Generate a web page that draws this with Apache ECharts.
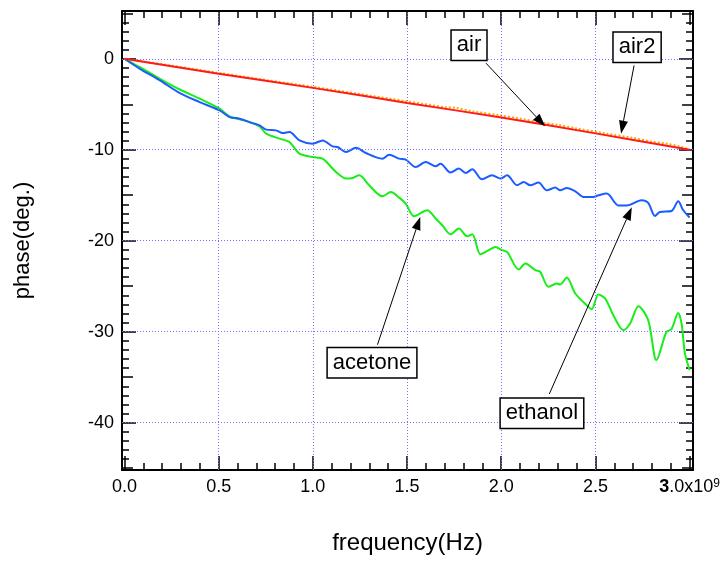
<!DOCTYPE html>
<html>
<head>
<meta charset="utf-8">
<script src="https://cdn.jsdelivr.net/npm/echarts@6/dist/echarts.min.js"></script>
<style>html,body{margin:0;padding:0;background:#fff}#c{width:723px;height:561px}</style>
</head>
<body>
<div id="c"></div>
<script>
// frequency values are in units of 1e9 Hz (axis shows x10^9)
const airFreq = [0, 0.5, 1.0, 1.5, 2.0, 2.5, 3.0];
const airPhase = [0, -1.65, -3.2, -4.85, -6.45, -8.2, -10.0];

const air2Freq = [0, 0.25, 0.5, 0.75, 1.0, 1.25, 1.5, 1.7, 1.76, 1.85, 2.0, 2.1, 2.2, 2.3, 2.4, 2.55, 2.7, 2.8, 2.87, 2.95, 3.0];
const air2Phase = [0, -0.76, -1.55, -2.33, -3.08, -3.88, -4.68, -5.32, -5.40, -5.78, -6.24, -6.58, -6.97, -7.26, -7.66, -8.2, -8.7, -9.12, -9.3, -9.66, -9.98];

const ethanolFreq = [0, 0.082, 0.188, 0.294, 0.399, 0.505, 0.558, 0.611, 0.680, 0.717, 0.752, 0.805, 0.840, 0.876, 0.929, 0.999, 1.052, 1.105, 1.131, 1.176, 1.229, 1.281, 1.369, 1.405, 1.458, 1.493, 1.546, 1.599, 1.652, 1.678, 1.731, 1.775, 1.811, 1.846, 1.898, 1.951, 1.996, 2.031, 2.084, 2.119, 2.154, 2.198, 2.242, 2.287, 2.313, 2.348, 2.393, 2.437, 2.489, 2.516, 2.560, 2.622, 2.666, 2.745, 2.780, 2.816, 2.842, 2.904, 2.939, 2.966, 3.0];
const ethanolPhase = [0, -1.10, -2.38, -3.77, -4.76, -5.68, -6.41, -6.59, -7.07, -7.32, -7.79, -7.87, -8.17, -8.06, -8.97, -9.33, -8.97, -9.63, -9.70, -10.25, -9.77, -10.36, -10.98, -10.54, -10.98, -11.09, -11.90, -11.35, -11.82, -11.53, -12.51, -12.07, -12.56, -12.15, -13.25, -12.81, -13.17, -12.81, -13.91, -13.55, -13.91, -13.61, -14.46, -14.16, -14.46, -14.20, -14.57, -15.19, -15.19, -15.01, -14.82, -16.12, -16.12, -15.55, -15.85, -17.28, -16.84, -16.73, -15.66, -16.65, -17.45];

const acetoneFreq = [0, 0.082, 0.188, 0.294, 0.399, 0.505, 0.558, 0.647, 0.717, 0.752, 0.823, 0.876, 0.929, 0.999, 1.052, 1.123, 1.176, 1.211, 1.246, 1.299, 1.369, 1.414, 1.458, 1.493, 1.537, 1.607, 1.652, 1.687, 1.731, 1.775, 1.819, 1.846, 1.890, 1.934, 1.969, 2.004, 2.031, 2.093, 2.128, 2.181, 2.207, 2.251, 2.295, 2.313, 2.348, 2.393, 2.463, 2.480, 2.516, 2.551, 2.595, 2.648, 2.684, 2.728, 2.780, 2.824, 2.877, 2.904, 2.939, 2.957, 2.975, 3.0];
const acetonePhase = [0, -0.92, -2.20, -3.38, -4.39, -5.49, -6.33, -6.85, -7.43, -8.23, -8.78, -9.15, -10.43, -10.80, -10.98, -12.45, -13.17, -13.11, -12.81, -13.91, -15.12, -14.64, -15.26, -15.92, -17.31, -16.65, -17.56, -18.30, -19.29, -18.66, -19.51, -19.29, -21.48, -21.04, -20.68, -21.04, -21.23, -23.16, -22.50, -23.24, -23.42, -25.07, -24.70, -24.81, -24.04, -25.80, -27.27, -27.52, -25.91, -26.34, -28.18, -29.82, -29.09, -27.19, -28.73, -33.12, -30.01, -29.71, -27.93, -29.09, -32.38, -34.22];

const xTickLabels = [0, 0.5, 1.0, 1.5, 2.0, 2.5, 3.0];
const xMinorTicks = [0, 0.1, 0.2, 0.3, 0.4, 0.5, 0.6, 0.7, 0.8, 0.9, 1.0, 1.1, 1.2, 1.3, 1.4, 1.5, 1.6, 1.7, 1.8, 1.9, 2.0, 2.1, 2.2, 2.3, 2.4, 2.5, 2.6, 2.7, 2.8, 2.9, 3.0];
const xGridLines = [0.5, 1.0, 1.5, 2.0, 2.5];
const yTickLabels = [-40, -30, -20, -10, 0];
const yMidTicks = [-45, -35, -25, -15, -5, 5];
const yMinorTicks = [-45,-44,-43,-42,-41,-40,-39,-38,-37,-36,-35,-34,-33,-32,-31,-30,-29,-28,-27,-26,-25,-24,-23,-22,-21,-20,-19,-18,-17,-16,-15,-14,-13,-12,-11,-10,-9,-8,-7,-6,-5,-4,-3,-2,-1,0,1,2,3,4,5];
const yGridLines = [-40, -30, -20, -10, 0];

const annotations = [
  { label: 'air', box: [1.829, 1.49], tail: [1.919, -0.48], tip: [2.233, -7.43] },
  { label: 'air2', box: [2.721, 1.27], tail: [2.705, -0.74], tip: [2.636, -8.23] },
  { label: 'acetone', box: [1.314, -33.42], tail: [1.343, -31.43], tip: [1.570, -17.38] },
  { label: 'ethanol', box: [2.216, -38.97], tail: [2.255, -36.85], tip: [2.693, -16.32] }
];

const FONT = 'Liberation Sans, Arial, Helvetica, sans-serif';
const X_MIN = -0.013, X_MAX = 3.018, Y_MIN = -45.2, Y_MAX = 5.25;

function zip(a, b) { return a.map((v, i) => [v, b[i]]); }

function xAxisDef(kind) {
  const major = kind === 'major';
  return {
    type: 'value', min: X_MIN, max: X_MAX,
    axisLine: { show: major, onZero: false, lineStyle: { color: '#000', width: 2 } },
    axisTick: { show: true, inside: true, length: major ? 14 : 7, customValues: major ? xTickLabels : xMinorTicks, lineStyle: { color: '#000', width: 1.5 } },
    axisLabel: { show: false },
    splitLine: { show: false }
  };
}
function yAxisDef(kind) {
  const len = kind === 'major' ? 14 : (kind === 'mid' ? 11 : 7);
  const vals = kind === 'major' ? yTickLabels : (kind === 'mid' ? yMidTicks : yMinorTicks);
  return {
    type: 'value', min: Y_MIN, max: Y_MAX,
    axisLine: { show: kind === 'major', onZero: false, lineStyle: { color: '#000', width: 2 } },
    axisTick: { show: true, inside: true, length: len, customValues: vals, lineStyle: { color: '#000', width: 1.5 } },
    axisLabel: { show: false },
    splitLine: { show: false }
  };
}

const xAxes = [xAxisDef('major'), xAxisDef('major'), xAxisDef('minor'), xAxisDef('minor')];
xAxes[0].position = 'bottom';
xAxes[1].position = 'top';
xAxes[2].position = 'bottom';
xAxes[3].position = 'top';
xAxes[0].axisLabel = {
  show: true, customValues: xTickLabels, margin: 8, color: '#000', fontFamily: FONT, fontSize: 18,
  formatter: function (v) { return v === 3 ? '{b|3}{n|.0x10}{s|9}' : v.toFixed(1); },
  rich: {
    b: { fontFamily: FONT, fontSize: 18, fontWeight: 'bold', color: '#000' },
    n: { fontFamily: FONT, fontSize: 18, color: '#000' },
    s: { fontFamily: FONT, fontSize: 12, color: '#000', verticalAlign: 'top' }
  }
};
xAxes[0].name = 'frequency(Hz)';
xAxes[0].nameLocation = 'middle';
xAxes[0].nameGap = 61;
xAxes[0].nameTextStyle = { fontFamily: FONT, fontSize: 24, color: '#000' };

const yAxes = [yAxisDef('major'), yAxisDef('major'), yAxisDef('mid'), yAxisDef('mid'), yAxisDef('minor'), yAxisDef('minor')];
yAxes[0].position = 'left';
yAxes[1].position = 'right';
yAxes[2].position = 'left';
yAxes[3].position = 'right';
yAxes[4].position = 'left';
yAxes[5].position = 'right';
yAxes[0].axisLabel = { show: true, customValues: yTickLabels, margin: 8, color: '#000', fontFamily: FONT, fontSize: 18 };
yAxes[0].name = 'phase(deg.)';
yAxes[0].nameLocation = 'middle';
yAxes[0].nameGap = 88;
yAxes[0].nameRotate = 90;
yAxes[0].nameTextStyle = { fontFamily: FONT, fontSize: 22, color: '#000' };

const chart = echarts.init(document.getElementById('c'), null, { renderer: 'canvas' });
chart.setOption({
  animation: false,
  backgroundColor: '#fff',
  grid: { left: 122, right: 28, top: 11, bottom: 91, containLabel: false },
  xAxis: xAxes,
  yAxis: yAxes,
  series: [
    {
      name: 'grid', type: 'line', data: [], z: 1, silent: true,
      markLine: {
        silent: true, symbol: ['none', 'none'], animation: false,
        label: { show: false },
        lineStyle: { color: '#7070ff', type: [1, 2], width: 1 },
        emphasis: { disabled: true },
        data: xGridLines.map(v => ({ xAxis: v })).concat(yGridLines.map(v => ({ yAxis: v })))
      }
    },
    { name: 'acetone', type: 'line', data: zip(acetoneFreq, acetonePhase), showSymbol: false, smooth: 0.3, z: 3, lineStyle: { color: '#18ee18', width: 2 } },
    { name: 'ethanol', type: 'line', data: zip(ethanolFreq, ethanolPhase), showSymbol: false, smooth: 0.3, z: 3, lineStyle: { color: '#1a5cff', width: 2 } },
    { name: 'air2', type: 'line', data: zip(air2Freq, air2Phase), showSymbol: false, smooth: 0.3, z: 4, lineStyle: { color: '#ffa500', width: 2, type: [2, 2] } },
    { name: 'air', type: 'line', data: zip(airFreq, airPhase), showSymbol: false, smooth: 0.3, z: 5, lineStyle: { color: '#ff1a1a', width: 2 } }
  ]
});

function drawAnnotations() {
  const els = [];
  const finder = { xAxisIndex: 0, yAxisIndex: 0 };
  annotations.forEach(a => {
    const c = chart.convertToPixel(finder, a.box);
    const t = chart.convertToPixel(finder, a.tail);
    const h = chart.convertToPixel(finder, a.tip);
    const dx = h[0] - t[0], dy = h[1] - t[1];
    const L = Math.hypot(dx, dy), ux = dx / L, uy = dy / L;
    const hl = 13, hw = 4.5;
    const bx = h[0] - ux * hl, by = h[1] - uy * hl;
    els.push({ type: 'line', z: 100, silent: true, shape: { x1: t[0], y1: t[1], x2: bx, y2: by }, style: { stroke: '#000', lineWidth: 1 } });
    els.push({ type: 'polygon', z: 100, silent: true, shape: { points: [[h[0], h[1]], [bx - uy * hw, by + ux * hw], [bx + uy * hw, by - ux * hw]] }, style: { fill: '#000' } });
    els.push({
      type: 'text', z: 101, silent: true, x: c[0], y: c[1],
      style: { text: a.label, fontFamily: FONT, fontSize: 22, fill: '#000', align: 'center', verticalAlign: 'middle',
        backgroundColor: '#fff', borderColor: '#000', borderWidth: 1.5, padding: [4, 5, 3, 5] }
    });
  });
  chart.setOption({ graphic: els });
}
drawAnnotations();
</script>
</body>
</html>
